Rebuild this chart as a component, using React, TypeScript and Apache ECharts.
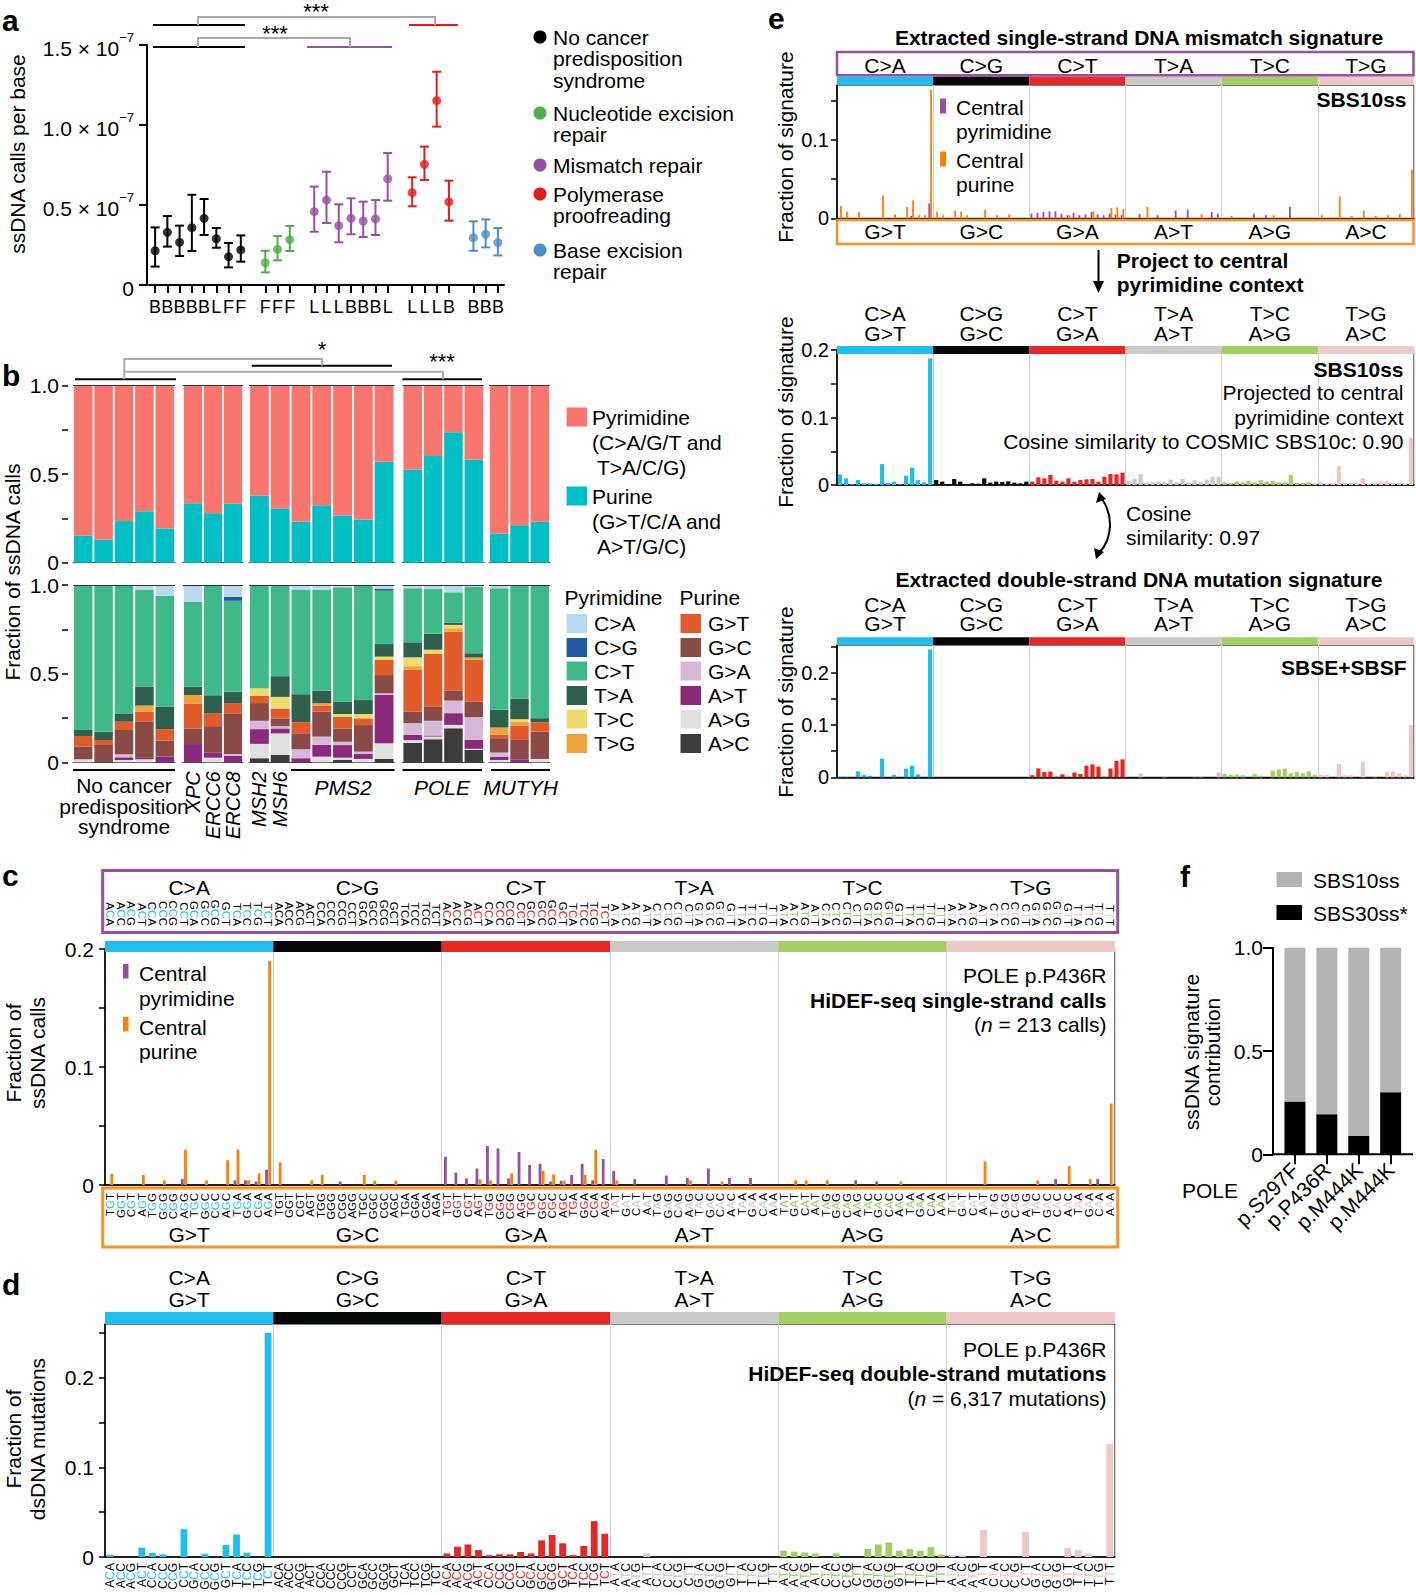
import React, { useEffect, useRef } from 'react';
import * as echarts from 'echarts';

const FONT = "'Liberation Sans', Arial, Helvetica, sans-serif";

/* ---------------- Panel a: ssDNA calls per base (x 1e-7) ---------------- */
const aCategories = ['B','B','B','B','B','L','F','F','','F','F','F','','L','L','L','B','B','B','L','','L','L','L','B','','B','B','B'];
const aGroupIndex = [0,0,0,0,0,0,0,0,-1,1,1,1,-1,2,2,2,2,2,2,2,-1,3,3,3,3,-1,4,4,4];
const aMean = [0.214,0.329,0.267,0.358,0.417,0.289,0.177,0.219,null,0.139,0.223,0.283,null,0.458,0.531,0.371,0.417,0.4,0.4125,0.664,null,0.577,0.754,1.152,0.519,null,0.296,0.317,0.265];
const aLow = [0.115,0.24,0.181,0.2125,0.3125,0.233,0.11,0.146,null,0.079,0.154,0.2125,null,0.333,0.3875,0.267,0.317,0.3,0.3125,0.527,null,0.492,0.656,0.99,0.402,null,0.214,0.235,0.185];
const aHigh = [0.36,0.431,0.371,0.564,0.5375,0.356,0.2625,0.31,null,0.214,0.306,0.369,null,0.615,0.708,0.504,0.542,0.521,0.531,0.825,null,0.673,0.865,1.333,0.652,null,0.398,0.41,0.356];
const aLegend = ['No cancer\npredisposition\nsyndrome','Nucleotide excision\nrepair','Mismatch repair','Polymerase\nproofreading','Base excision\nrepair'];
const aColors = ['#000000','#4daf4a','#984ea3','#e41a1c','#4a8fc7'];

/* ---------------- Panel b: stacked fractions ---------------- */
const bGroupSizes = [5,3,7,4,3];
const bGeneLabels = ['','','','','','XPC','ERCC6','ERCC8','MSH2','MSH6','','','','','','','','','','','',''];
const bPurine = [0.152,0.13,0.235,0.291,0.194, 0.336,0.28,0.333, 0.378,0.308,0.231,0.325,0.267,0.244,0.571, 0.526,0.603,0.737,0.583, 0.165,0.212,0.231];
const bAC = [0,0,0,0,0, 0,0,0, 0.023,0.041,0,0,0.013,0,0.019, 0.11,0.13,0.192,0.07, 0,0,0];
const bAG = [0.017,0,0.013,0.017,0, 0,0.026,0, 0.081,0.122,0,0.032,0.013,0.019,0.088, 0.015,0.015,0.019,0.006, 0.013,0,0.019];
const bAT = [0,0,0.015,0.008,0.032, 0.103,0.028,0.036, 0.083,0.028,0.023,0.066,0.071,0.028,0.273, 0.03,0.006,0.066,0.051, 0.019,0.017,0];
const bGA = [0,0,0.017,0,0, 0,0,0.011, 0.047,0.013,0.051,0.047,0.019,0.013,0.009, 0.066,0.083,0.071,0.128, 0.023,0,0];
const bGC = [0.071,0.098,0.137,0.205,0.09, 0.088,0.15,0.229, 0.1,0.043,0.09,0.141,0.075,0.15,0.103, 0.064,0.081,0.056,0.088, 0.081,0.109,0.154];
const bGT = [0.06,0.028,0.047,0.056,0.064, 0.141,0.071,0.056, 0.041,0.056,0.062,0.034,0.066,0.038,0.085, 0.237,0.297,0.333,0.235, 0.019,0.081,0.053];
const bTG = [0,0,0,0.034,0, 0.047,0,0, 0,0,0,0.013,0,0,0, 0.02,0,0.019,0.013, 0.041,0.023,0];
const bTC = [0,0,0,0,0, 0,0,0, 0.043,0.066,0,0,0.015,0.024,0.019, 0.05,0.023,0.019,0, 0,0.013,0];
const bTA = [0.034,0.047,0.047,0.107,0.128, 0.047,0.103,0.066, 0,0.117,0.158,0.07,0.07,0.079,0.071, 0.085,0.09,0.013,0.024, 0.1,0.115,0.023];
const bCT = [0.818,0.827,0.724,0.545,0.626, 0.479,0.62,0.513, 0.583,0.513,0.588,0.57,0.645,0.649,0.301, 0.305,0.252,0.171,0.376, 0.686,0.643,0.752];
const bCG = [0,0,0,0,0, 0,0,0.023, 0,0,0,0,0,0,0.011, 0,0,0,0, 0,0,0];
const bCA = [0,0,0,0.028,0.06, 0.094,0,0.066, 0,0,0.028,0.028,0.013,0,0.021, 0.018,0.024,0.041,0.009, 0.019,0,0];
const bPyrClasses = ['C>A','C>G','C>T','T>A','T>C','T>G'];
const bPurClasses = ['G>T','G>C','G>A','A>T','A>G','A>C'];
const bPyrColors = ['#b9d9f0','#1f5aa6','#40b98a','#2f5f4d','#ecdc6c','#f0a33a'];
const bPurColors = ['#e05a2a','#8a4a45','#d6b8d8','#8b2a7c','#e0e0e0','#3c3c3c'];

/* ---------------- Mutational spectra (96 trinucleotide contexts) ---------------- */
const BASES = ['A','C','G','T'];
const pyrTypes = ['C>A','C>G','C>T','T>A','T>C','T>G'];
const purTypes = ['G>T','G>C','G>A','A>T','A>G','A>C'];
const typeColors = ['#1ebff0','#050708','#e62725','#cbcacb','#a1cf64','#edc8c5'];
const COMP: Record<string, string> = { A: 'T', C: 'G', G: 'C', T: 'A' };
const contextsPyr: string[] = [];
const contextsPur: string[] = [];
pyrTypes.forEach((t) => {
  const c = t[0];
  BASES.forEach((five) => BASES.forEach((three) => {
    contextsPyr.push(five + c + three);
    contextsPur.push(COMP[three] + COMP[c] + COMP[five]);
  }));
});

// c: POLE p.P436R HiDEF-seq single-strand calls
const cPyr = [
  0,0,0,0,0,0,0,0.005,0,0,0,0,0.004,0.004,0.003,0.013,
  0,0,0,0,0,0,0.003,0,0,0,0,0,0,0,0,0,
  0.024,0.0105,0.0056,0.014,0.033,0.031,0.0056,0.028,0.017,0.018,0.003,0.0037,0.0085,0.018,0.004,0.022,
  0.012,0,0.005,0,0,0.008,0,0.006,0,0.014,0,0.006,0,0.006,0,0,
  0,0,0,0,0,0,0,0.004,0,0.003,0,0,0,0,0,0,
  0,0,0,0,0,0,0,0,0,0,0.005,0,0,0,0.005,0];
const cPur = [
  0.0093,0,0,0.0085,0,0.004,0,0.03,0,0.004,0,0.021,0.03,0.004,0.01,0.19,
  0.019,0,0,0.004,0.0085,0,0,0,0.0085,0.0037,0,0.0037,0,0,0,0,
  0,0,0,0.0048,0.004,0,0.01,0,0,0.012,0.009,0.0037,0,0.0085,0.03,0,
  0.004,0,0,0,0,0,0,0.004,0,0,0.003,0,0,0,0,0,
  0,0.004,0.004,0,0.004,0,0,0,0,0,0,0.003,0,0,0,0,
  0,0,0,0.02,0,0,0,0,0.004,0,0,0.016,0,0.005,0,0.069];
// d: POLE p.P436R double-strand mutations
const dVals = [
  0.0026,0,0,0.0104,0.0045,0.003,0,0.031,0,0.0034,0,0.0134,0.025,0.0048,0,0.25,
  0,0,0,0,0,0,0,0,0,0,0,0,0,0,0,0,
  0.004,0.0115,0.014,0.0078,0.002,0.003,0.003,0.0056,0.004,0.0186,0.0246,0.0153,0.002,0.0123,0.04,0.026,
  0,0,0,0.004,0,0,0,0,0,0,0,0,0,0,0,0,
  0.007,0.006,0.005,0.004,0,0.004,0,0,0.009,0.014,0.016,0.007,0.009,0.007,0.011,0.003,
  0.002,0.002,0,0.03,0,0,0,0.028,0,0,0,0.01,0.008,0.004,0,0.126];
// e1: SBS10ss extracted
const e1Pyr = [
  0,0,0,0,0,0,0,0,0,0,0,0,0.003,0,0,0.019,
  0,0,0,0,0,0,0,0,0,0,0,0,0,0,0,0,
  0.006,0.007,0.008,0.009,0.009,0.006,0.004,0.007,0.004,0.005,0.008,0.005,0.004,0.006,0.005,0.004,
  0,0,0.0055,0,0,0.004,0,0,0.01,0,0.011,0,0,0,0.008,0.006,
  0,0,0,0,0,0.006,0,0.004,0,0,0,0.0145,0,0,0,0,
  0,0,0,0,0,0,0,0,0,0,0,0,0,0,0,0];
const e1Pur = [
  0.0157,0.0085,0,0.0085,0,0,0,0.029,0,0.005,0,0.0145,0.023,0.004,0.004,0.164,
  0.0085,0.004,0,0.01,0.0085,0.004,0,0,0.011,0,0.004,0,0.005,0,0,0,
  0,0,0,0,0,0,0.004,0,0,0,0.009,0,0,0.013,0.014,0.012,
  0,0,0,0.0145,0,0,0,0,0,0,0,0,0.005,0,0,0,
  0,0.003,0,0,0,0,0,0,0.004,0,0,0,0,0,0,0,
  0.004,0,0,0.028,0,0.003,0,0.01,0,0.003,0,0.004,0,0.006,0,0.062];
// e2: SBS10ss projected to central pyrimidine context
const e2Vals = [
  0.0158,0.0099,0.001,0.0074,0.0025,0.0025,0.0015,0.031,0.0035,0.005,0.001,0.0138,0.0257,0.0074,0.004,0.1877,
  0.0074,0.005,0.0015,0.0089,0.005,0.0015,0.0025,0.002,0.0099,0.0035,0.005,0.0045,0.0054,0.0035,0.0025,0.005,
  0.005,0.0114,0.0099,0.0148,0.0064,0.005,0.0099,0.005,0.0074,0.0084,0.0089,0.005,0.0123,0.0163,0.0158,0.0183,
  0.006,0.009,0.016,0.004,0.004,0.005,0.004,0.008,0.004,0.009,0.004,0.007,0.005,0.008,0.012,0.012,
  0.004,0.003,0.005,0.004,0.006,0.004,0.007,0.005,0.006,0.004,0.004,0.015,0.003,0.003,0.004,0.002,
  0.005,0.002,0.003,0.028,0.004,0.003,0.003,0.01,0.002,0.004,0.005,0.006,0.003,0.004,0.003,0.07];
// e3: SBSE+SBSF extracted double-strand signature
const e3Vals = [
  0.001,0.001,0,0.0115,0.0045,0.003,0,0.0357,0,0.0045,0,0.016,0.0223,0.0057,0,0.2446,
  0,0,0,0,0,0,0,0,0,0,0,0,0,0,0,0,
  0.004,0.017,0.0102,0.011,0.0013,0.0057,0.001,0.009,0.0064,0.0223,0.0248,0.0204,0.001,0.017,0.0312,0.0344,
  0,0,0.0076,0,0,0,0.0025,0,0,0,0,0.0025,0.0025,0,0,0.009,
  0.0064,0.005,0.005,0.004,0,0.006,0.003,0,0.0127,0.015,0.0166,0.0076,0.0102,0.0076,0.0115,0.0045,
  0.0045,0.0045,0,0.0255,0.004,0.004,0,0.03,0,0.002,0,0.011,0.011,0.0076,0.004,0.1];

/* ---------------- Panel f ---------------- */
const fCategories = ['p.S297F','p.P436R','p.M444K','p.M444K'];
const fSBS30 = [0.255,0.194,0.089,0.3];
const fSBS10 = [0.745,0.806,0.911,0.7];

const PURPLE = '#984ea3';
const ORANGE = '#ff7f00';

function fmtTenth(v: number) {
  if (Math.abs(v) < 1e-9) return '0';
  const r = Math.round(v * 10);
  return Math.abs(v * 10 - r) < 1e-6 ? (r / 10).toFixed(1) : '';
}

function ctxRich(fs: number) {
  const r: any = { k: { color: '#000', fontSize: fs, fontFamily: FONT } };
  typeColors.forEach((c, t) => { r['t' + t] = { color: c, fontSize: fs, fontFamily: FONT }; });
  return r;
}
const ctxFormatter = (v: string, i: number) => `{k|${v[0]}}{t${Math.floor(i / 16)}|${v[1]}}{k|${v[2]}}`;

function buildOption() {
  const grid: any[] = [], xAxis: any[] = [], yAxis: any[] = [], series: any[] = [], graphic: any[] = [];
  const addGrid = (g: any) => grid.push({ containLabel: false, ...g }) - 1;
  const addX = (a: any) => xAxis.push(a) - 1;
  const addY = (a: any) => yAxis.push(a) - 1;

  const text = (x: number, y: number, t: string, o: any = {}) => {
    const ha = o.ha || 'left', va = o.va || 'middle';
    graphic.push({
      type: 'text', x, y, rotation: o.rot || 0, silent: true, z: 10,
      style: {
        text: t, fontFamily: FONT, fontSize: o.size || 21, fontWeight: o.weight || 'normal',
        fontStyle: o.italic ? 'italic' : 'normal', fill: o.color || '#000',
        textAlign: ha, textVerticalAlign: va, align: ha, verticalAlign: va,
        lineHeight: o.lh, rich: o.rich,
      },
    });
  };
  const line = (x1: number, y1: number, x2: number, y2: number, color = '#000', w = 2) =>
    graphic.push({ type: 'line', silent: true, z: 10, shape: { x1, y1, x2, y2 }, style: { stroke: color, lineWidth: w } });
  const poly = (pts: number[][], color: string, w: number) =>
    graphic.push({ type: 'polyline', silent: true, z: 10, shape: { points: pts }, style: { stroke: color, lineWidth: w, fill: 'none' } });
  const rect = (x: number, y: number, w: number, h: number, style: any) =>
    graphic.push({ type: 'rect', silent: true, z: 10, shape: { x, y, width: w, height: h }, style });

  /* ===== Panel a ===== */
  const ga = addGrid({ left: 149, top: 45, width: 355, height: 240 });
  const xa = addX({
    gridIndex: ga, type: 'category', data: aCategories,
    axisLine: { show: true, lineStyle: { color: '#000', width: 2 } },
    axisTick: { show: true, alignWithLabel: true, length: 8, interval: (i: number, v: string) => v !== '', lineStyle: { color: '#000', width: 2 } },
    axisLabel: { interval: 0, fontSize: 18, fontFamily: FONT, color: '#000', margin: 13 },
  });
  const ya = addY({
    gridIndex: ga, type: 'value', min: 0, max: 1.5, interval: 0.5, offset: 2,
    axisLine: { show: true, lineStyle: { color: '#000', width: 2 } },
    axisTick: { show: true, length: 8, lineStyle: { color: '#000', width: 2 } },
    splitLine: { show: false },
    axisLabel: {
      margin: 13,
      formatter: (v: number) => (v === 0 ? '{m|0}' : `{m|${v.toFixed(1)} × 10}{s|−7}`),
      rich: {
        m: { fontSize: 21, fontFamily: FONT, color: '#000', lineHeight: 28, verticalAlign: 'bottom' },
        s: { fontSize: 13, fontFamily: FONT, color: '#000', lineHeight: 13, verticalAlign: 'top' },
      },
    },
  });
  series.push({
    type: 'custom', xAxisIndex: xa, yAxisIndex: ya, silent: true, encode: { x: 0, y: [1, 2] },
    renderItem: (params: any, api: any) => {
      const i = api.value(0);
      const lo = api.coord([i, api.value(1)]);
      const hi = api.coord([i, api.value(2)]);
      const color = aColors[aGroupIndex[i]];
      const st = { stroke: color, lineWidth: 2 };
      const w = 4.5;
      return {
        type: 'group', children: [
          { type: 'line', shape: { x1: lo[0], y1: lo[1], x2: hi[0], y2: hi[1] }, style: st },
          { type: 'line', shape: { x1: lo[0] - w, y1: lo[1], x2: lo[0] + w, y2: lo[1] }, style: st },
          { type: 'line', shape: { x1: hi[0] - w, y1: hi[1], x2: hi[0] + w, y2: hi[1] }, style: st },
        ],
      };
    },
    data: aMean.map((m, i) => (m == null ? null : [i, aLow[i], aHigh[i]])).filter((d) => d),
  });
  series.push({
    type: 'scatter', xAxisIndex: xa, yAxisIndex: ya, symbolSize: 9, silent: true, z: 3,
    data: aMean.map((m, i) => (m == null ? null : { value: [i, m], itemStyle: { color: aColors[aGroupIndex[i]] } })).filter((d) => d),
  });
  text(2, 20, 'a', { size: 30, weight: 'bold' });
  text(17, 154, 'ssDNA calls per base', { ha: 'center', rot: Math.PI / 2 });
  line(153, 47, 245, 47);
  line(307, 47, 392, 47, PURPLE);
  poly([[198, 47], [198, 38], [350, 38], [350, 47]], '#aaaaaa', 2);
  text(275, 33, '***', { ha: 'center', size: 22 });
  line(153, 25, 245, 25);
  line(409, 25, 458, 25, '#e41a1c');
  poly([[198, 25], [198, 17], [435, 17], [435, 25]], '#aaaaaa', 2);
  text(316, 11.5, '***', { ha: 'center', size: 22 });
  const aLegY = [37, 113, 165, 194, 250];
  aLegend.forEach((name, g) => {
    graphic.push({ type: 'circle', silent: true, z: 10, shape: { cx: 540, cy: aLegY[g], r: 6.5 }, style: { fill: aColors[g] } });
    text(553, aLegY[g] - 10.75, name, { va: 'top', lh: 21.5 });
  });

  /* ===== Panel b ===== */
  const bLeft = [73, 183, 249, 402.5, 489];
  const bWidth = [102, 60, 145.5, 81.5, 61];
  const bBottomUp = [bAC, bAG, bAT, bGA, bGC, bGT, bTG, bTC, bTA, bCT, bCG, bCA];
  const bBottomUpColors = [...bPurColors].reverse().concat([...bPyrColors].reverse());
  const bYAxis = (gi: number, show: boolean) => ({
    gridIndex: gi, type: 'value', min: 0, max: 1, interval: 0.25, show, offset: 5,
    axisLine: { show: false },
    axisTick: { show: true, length: 6, lineStyle: { color: '#000', width: 1.5 } },
    axisLabel: { margin: 9, fontSize: 21, fontFamily: FONT, color: '#000', formatter: (v: number) => (v === 0 ? '0' : v === 0.5 ? '0.5' : v === 1 ? '1.0' : '') },
    splitLine: { show: false },
  });
  const topLine = { silent: true, symbol: 'none', label: { show: false }, lineStyle: { color: '#333', width: 1.2, type: 'solid' }, data: [{ yAxis: 1 }] };
  let start = 0;
  bGroupSizes.forEach((n, g) => {
    const idx = Array.from({ length: n }, (_, k) => start + k);
    const gt = addGrid({ left: bLeft[g], width: bWidth[g], top: 385.7, height: 177 });
    const xt = addX({ gridIndex: gt, type: 'category', data: idx.map((i) => bGeneLabels[i]), axisLine: { show: true, lineStyle: { color: '#444', width: 1 } }, axisTick: { show: false }, axisLabel: { show: false } });
    const yt = addY(bYAxis(gt, g === 0));
    series.push({ type: 'bar', stack: 'bt' + g, xAxisIndex: xt, yAxisIndex: yt, barCategoryGap: '9%', silent: true, data: idx.map((i) => bPurine[i]), itemStyle: { color: '#00bfc4' }, markLine: topLine });
    series.push({ type: 'bar', stack: 'bt' + g, xAxisIndex: xt, yAxisIndex: yt, barCategoryGap: '9%', silent: true, data: idx.map((i) => 1 - bPurine[i]), itemStyle: { color: '#f8766d' } });

    const gb = addGrid({ left: bLeft[g], width: bWidth[g], top: 585, height: 177.3 });
    const xb = addX({
      gridIndex: gb, type: 'category', data: idx.map((i) => bGeneLabels[i]),
      axisLine: { show: true, lineStyle: { color: '#444', width: 1 } }, axisTick: { show: false },
      axisLabel: { show: true, interval: 0, rotate: 90, margin: 9, fontSize: 20, fontStyle: 'italic', fontFamily: FONT, color: '#000' },
    });
    const yb = addY(bYAxis(gb, g === 0));
    bBottomUp.forEach((arr, k) => {
      series.push({
        type: 'bar', stack: 'bb' + g, xAxisIndex: xb, yAxisIndex: yb, barCategoryGap: '9%', silent: true,
        data: idx.map((i) => arr[i]), itemStyle: { color: bBottomUpColors[k] },
        markLine: k === 0 ? topLine : undefined,
      });
    });
    start += n;
  });
  text(2, 375, 'b', { size: 30, weight: 'bold' });
  text(12, 572, 'Fraction of ssDNA calls', { ha: 'center', rot: Math.PI / 2 });
  line(75, 379.3, 176, 379.3);
  line(251.8, 365.7, 392, 365.7);
  line(402.5, 379.3, 482, 379.3);
  poly([[124.3, 379.3], [124.3, 359], [322, 359], [322, 365.7]], '#aaaaaa', 2);
  poly([[124.3, 371.7], [443, 371.7], [443, 379.3]], '#aaaaaa', 2);
  text(322, 349, '*', { ha: 'center', size: 22 });
  text(442, 361, '***', { ha: 'center', size: 22 });
  rect(566.6, 407.5, 20.5, 19, { fill: '#f8766d' });
  text(592, 417, 'Pyrimidine');
  text(592, 442.5, '(C>A/G/T and');
  text(597, 467, 'T>A/C/G)');
  rect(566.6, 486.5, 20.5, 19, { fill: '#00bfc4' });
  text(592, 496, 'Purine');
  text(592, 521, '(G>T/C/A and');
  text(597, 546, 'A>T/G/C)');
  text(564.5, 597, 'Pyrimidine');
  text(679.5, 597, 'Purine');
  const bLegY = [623.5, 647.5, 671, 695.5, 719, 743.5];
  bPyrClasses.forEach((c, r) => {
    rect(566.6, bLegY[r] - 9.5, 20.5, 19, { fill: bPyrColors[r] });
    text(594, bLegY[r], c);
    rect(680.5, bLegY[r] - 9.5, 20.5, 19, { fill: bPurColors[r] });
    text(708, bLegY[r], bPurClasses[r]);
  });
  line(73, 770, 175, 770);
  text(124, 775.5, 'No cancer\npredisposition\nsyndrome', { ha: 'center', va: 'top', lh: 20.5 });
  line(291, 770, 394.6, 770);
  text(343, 787, 'PMS2', { ha: 'center', italic: true });
  line(402.5, 770, 482, 770);
  text(442, 787, 'POLE', { ha: 'center', italic: true });
  line(491, 770, 550, 770);
  text(520.5, 787, 'MUTYH', { ha: 'center', italic: true });

  /* ===== Spectrum panels ===== */
  const addSignature = (p: any) => {
    const gMain = addGrid({ left: p.left, top: p.top, width: p.width, height: p.height, show: true, borderColor: '#000', borderWidth: 1 });
    const xMain = addX({
      gridIndex: gMain, type: 'category', data: p.bottomLabels || contextsPyr, position: 'bottom',
      axisLine: { show: true, lineStyle: { color: '#000', width: 1.5 } },
      axisTick: { show: false },
      splitLine: { show: true, interval: (i: number) => i > 0 && i % 16 === 0, lineStyle: { color: '#cfcfcf', width: 1 } },
      axisLabel: p.bottomLabels ? { show: true, interval: 0, rotate: 90, margin: p.bottomMargin, formatter: ctxFormatter, rich: ctxRich(p.ctxSize) } : { show: false },
    });
    if (p.topLabels) {
      addX({
        gridIndex: gMain, type: 'category', data: p.topLabels, position: 'top',
        axisLine: { show: false }, axisTick: { show: false }, splitLine: { show: false },
        axisLabel: { show: true, interval: 0, rotate: 90, margin: p.topMargin, formatter: ctxFormatter, rich: ctxRich(p.ctxSize) },
      });
    }
    if (p.bottomTypes) {
      addX({
        gridIndex: gMain, type: 'category', data: purTypes, position: 'bottom',
        axisLine: { show: false }, axisTick: { show: false }, splitLine: { show: false },
        axisLabel: { show: true, interval: 0, margin: p.bottomTypesMargin, fontSize: 21, fontFamily: FONT, color: '#000' },
      });
    }
    const ticks = [0, 0.05, 0.1, 0.15, 0.2, 0.25].filter((v) => v <= p.max + 1e-9);
    const labels = [0, 0.1, 0.2].filter((v) => v <= p.max + 1e-9);
    const yMain = addY({
      gridIndex: gMain, type: 'value', min: 0, max: p.max, interval: 0.05,
      axisLine: { show: true, lineStyle: { color: '#000', width: 1.5 } },
      axisTick: { show: true, length: 6, lineStyle: { color: '#000', width: 1.5 }, customValues: ticks },
      axisLabel: { show: true, margin: p.labelMargin, fontSize: p.tickFont, fontFamily: FONT, color: '#000', customValues: labels, formatter: fmtTenth },
      splitLine: { show: false },
    });
    p.series.forEach((s: any) => series.push({ type: 'bar', silent: true, xAxisIndex: xMain, yAxisIndex: yMain, ...s }));
    const gStrip = addGrid({ left: p.left, top: p.stripTop, width: p.width, height: p.stripHeight });
    const xStrip = addX({
      gridIndex: gStrip, type: 'category', data: p.stripLabels, position: 'top',
      axisLine: { show: false }, axisTick: { show: false }, splitLine: { show: false },
      axisLabel: { show: true, interval: 0, margin: p.stripMargin, fontSize: 21, lineHeight: p.stripLH, fontFamily: FONT, color: '#000' },
    });
    const yStrip = addY({ gridIndex: gStrip, type: 'value', min: 0, max: 1, show: false });
    series.push({ type: 'bar', silent: true, xAxisIndex: xStrip, yAxisIndex: yStrip, barCategoryGap: '0%', data: typeColors.map((c) => ({ value: 1, itemStyle: { color: c } })) });
  };
  const colored = (vals: number[]) => vals.map((v, i) => ({ value: v, itemStyle: { color: typeColors[Math.floor(i / 16)] } }));
  const twoLine = pyrTypes.map((t, i) => t + '\n' + purTypes[i]);

  // c
  addSignature({
    left: 105, width: 1010, top: 949, height: 236, max: 0.2, stripTop: 941, stripHeight: 11,
    stripLabels: pyrTypes, stripMargin: 43,
    topLabels: contextsPyr, topMargin: 23, bottomLabels: contextsPur, bottomMargin: 8, ctxSize: 11.5,
    bottomTypes: true, bottomTypesMargin: 38.5, tickFont: 21, labelMargin: 11,
    series: [
      { data: cPyr, itemStyle: { color: PURPLE }, barGap: '10%', barCategoryGap: '44%' },
      { data: cPur, itemStyle: { color: ORANGE }, barGap: '10%', barCategoryGap: '44%' },
    ],
  });
  rect(102.7, 870.6, 1015, 62, { fill: 'none', stroke: PURPLE, lineWidth: 3 });
  rect(102.7, 1188, 1015, 59, { fill: 'none', stroke: '#ff8f1f', lineWidth: 3 });
  text(2, 875, 'c', { size: 30, weight: 'bold' });
  text(25.5, 1053, 'Fraction of\nssDNA calls', { ha: 'center', rot: Math.PI / 2, lh: 24 });
  rect(123, 964, 5.5, 14.5, { fill: PURPLE });
  text(139, 973, 'Central');
  text(139, 998, 'pyrimidine');
  rect(123, 1017, 5.5, 14.5, { fill: ORANGE });
  text(139, 1027, 'Central');
  text(139, 1051, 'purine');
  const italRich = { i: { fontStyle: 'italic', fontSize: 21, fontFamily: FONT, fill: '#000' } };
  text(1106.5, 975, 'POLE p.P436R', { ha: 'right' });
  text(1106.5, 1000, 'HiDEF-seq single-strand calls', { ha: 'right', weight: 'bold' });
  text(1106.5, 1024.5, '({i|n} = 213 calls)', { ha: 'right', rich: italRich });

  // d
  addSignature({
    left: 105, width: 1010, top: 1324, height: 233, max: 0.26, stripTop: 1312, stripHeight: 12,
    stripLabels: twoLine, stripMargin: 2, stripLH: 21.5,
    bottomLabels: contextsPyr, bottomMargin: 6, ctxSize: 12, tickFont: 21, labelMargin: 11,
    series: [{ data: colored(dVals), barCategoryGap: '35%' }],
  });
  text(2, 1284, 'd', { size: 30, weight: 'bold' });
  text(25.5, 1439, 'Fraction of\ndsDNA mutations', { ha: 'center', rot: Math.PI / 2, lh: 24 });
  text(1106.5, 1349, 'POLE p.P436R', { ha: 'right' });
  text(1106.5, 1373, 'HiDEF-seq double-strand mutations', { ha: 'right', weight: 'bold' });
  text(1106.5, 1398, '({i|n} = 6,317 mutations)', { ha: 'right', rich: italRich });

  // e1
  addSignature({
    left: 837, width: 577, top: 85, height: 133.3, max: 0.17, stripTop: 76.5, stripHeight: 8.5,
    stripLabels: pyrTypes, stripMargin: 1, bottomTypes: true, bottomTypesMargin: 3, tickFont: 20, labelMargin: 8,
    series: [
      { data: e1Pyr, itemStyle: { color: PURPLE }, barGap: '0%', barCategoryGap: '40%' },
      { data: e1Pur, itemStyle: { color: ORANGE }, barGap: '0%', barCategoryGap: '40%' },
    ],
  });
  rect(837, 52, 576.5, 23.3, { fill: 'none', stroke: PURPLE, lineWidth: 2.5 });
  rect(837, 220, 576.5, 24, { fill: 'none', stroke: '#ff8f1f', lineWidth: 2.5 });
  text(768, 18.5, 'e', { size: 30, weight: 'bold' });
  text(1139, 37.6, 'Extracted single-strand DNA mismatch signature', { ha: 'center', weight: 'bold' });
  text(785, 147, 'Fraction of signature', { ha: 'center', rot: Math.PI / 2 });
  rect(940, 98.5, 6, 15, { fill: PURPLE });
  text(956, 107, 'Central');
  text(956, 131.5, 'pyrimidine');
  rect(940, 151.5, 6, 15, { fill: ORANGE });
  text(956, 160, 'Central');
  text(956, 184.5, 'purine');
  text(1406.5, 99.5, 'SBS10ss', { ha: 'right', weight: 'bold' });
  line(1098.5, 250, 1098.5, 284, '#000', 2);
  graphic.push({ type: 'polygon', silent: true, z: 10, shape: { points: [[1093, 281], [1104, 281], [1098.5, 293]] }, style: { fill: '#000' } });
  text(1116.7, 260, 'Project to central', { weight: 'bold' });
  text(1116.7, 284, 'pyrimidine context', { weight: 'bold' });

  // e2
  addSignature({
    left: 837, width: 577, top: 350, height: 135, max: 0.2, stripTop: 346, stripHeight: 8,
    stripLabels: twoLine, stripMargin: 3, stripLH: 19.5, tickFont: 20, labelMargin: 8,
    series: [{ data: colored(e2Vals), barCategoryGap: '30%' }],
  });
  text(785, 412, 'Fraction of signature', { ha: 'center', rot: Math.PI / 2 });
  text(1403.5, 369, 'SBS10ss', { ha: 'right', weight: 'bold' });
  text(1403.5, 392.6, 'Projected to central', { ha: 'right' });
  text(1403.5, 417, 'pyrimidine context', { ha: 'right' });
  text(1403.5, 441.4, 'Cosine similarity to COSMIC SBS10c: 0.90', { ha: 'right' });
  graphic.push({ type: 'bezierCurve', silent: true, z: 10, shape: { x1: 1102, y1: 499, cpx1: 1113, cpy1: 515, cpx2: 1113, cpy2: 537, x2: 1100, y2: 552 }, style: { stroke: '#000', lineWidth: 2, fill: 'none' } });
  graphic.push({ type: 'polygon', silent: true, z: 10, shape: { points: [[1096, 503], [1106, 499], [1099, 492]] }, style: { fill: '#000' } });
  graphic.push({ type: 'polygon', silent: true, z: 10, shape: { points: [[1094, 548], [1104, 552], [1096, 559]] }, style: { fill: '#000' } });
  text(1126, 513.6, 'Cosine');
  text(1126, 537, 'similarity: 0.97');

  // e3
  addSignature({
    left: 837, width: 577, top: 645, height: 132.3, max: 0.253, stripTop: 637.3, stripHeight: 7.7,
    stripLabels: twoLine, stripMargin: 4, stripLH: 19.5, tickFont: 20, labelMargin: 8,
    series: [{ data: colored(e3Vals), barCategoryGap: '30%' }],
  });
  text(1139, 579.7, 'Extracted double-strand DNA mutation signature', { ha: 'center', weight: 'bold' });
  text(785, 702, 'Fraction of signature', { ha: 'center', rot: Math.PI / 2 });
  text(1406.5, 667, 'SBSE+SBSF', { ha: 'right', weight: 'bold' });

  /* ===== Panel f ===== */
  const gf = addGrid({ left: 1279, top: 947.7, width: 127.6, height: 206.6 });
  const xf = addX({
    gridIndex: gf, type: 'category', data: fCategories,
    axisLine: { show: false },
    axisTick: { show: true, alignWithLabel: true, length: 10, lineStyle: { color: '#000', width: 2 } },
    axisLabel: { interval: 0, rotate: 45, margin: 12, fontSize: 21, fontFamily: FONT, color: '#000' },
  });
  const yf = addY({
    gridIndex: gf, type: 'value', min: 0, max: 1, interval: 0.5, offset: 6,
    axisLine: { show: true, lineStyle: { color: '#000', width: 2 } },
    axisTick: { show: true, length: 10, lineStyle: { color: '#000', width: 2 } },
    axisLabel: { margin: 10, fontSize: 21, fontFamily: FONT, color: '#000', formatter: (v: number) => (v === 0 ? '0' : v.toFixed(1)) },
    splitLine: { show: false },
  });
  series.push({ type: 'bar', stack: 'f', xAxisIndex: xf, yAxisIndex: yf, barWidth: 21, silent: true, data: fSBS30, itemStyle: { color: '#000' } });
  series.push({ type: 'bar', stack: 'f', xAxisIndex: xf, yAxisIndex: yf, barWidth: 21, silent: true, data: fSBS10, itemStyle: { color: '#b3b3b3' } });
  line(1273, 1154.3, 1413, 1154.3, '#000', 2);
  text(1180, 876, 'f', { size: 30, weight: 'bold' });
  rect(1276.5, 872, 25.5, 15, { fill: '#b3b3b3' });
  text(1313, 880, 'SBS10ss');
  rect(1276.5, 905, 25.5, 15, { fill: '#000' });
  text(1313, 913, 'SBS30ss*');
  text(1202, 1052, 'ssDNA signature\ncontribution', { ha: 'center', rot: Math.PI / 2, lh: 21 });
  text(1182, 1190, 'POLE');

  return {
    animation: false,
    backgroundColor: '#ffffff',
    textStyle: { fontFamily: FONT },
    grid, xAxis, yAxis, series, graphic,
  };
}

export default function App() {
  const ref = useRef<HTMLDivElement>(null);
  useEffect(() => {
    if (!ref.current) return;
    const chart = echarts.init(ref.current, null, { renderer: 'svg', width: 1416, height: 1595 });
    chart.setOption(buildOption() as any);
    return () => chart.dispose();
  }, []);
  return <div ref={ref} style={{ position: 'absolute', left: 0, top: 0, width: 1416, height: 1595, background: '#fff' }} />;
}
